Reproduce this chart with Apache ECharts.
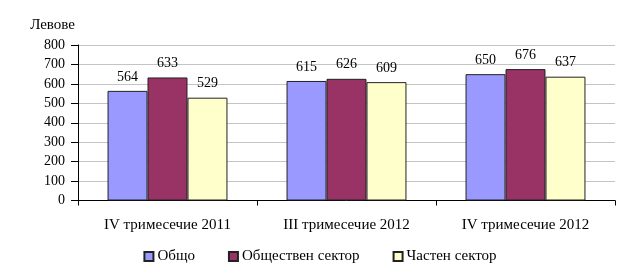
<!DOCTYPE html>
<html><head><meta charset="utf-8">
<script src="https://cdn.jsdelivr.net/npm/echarts@6/dist/echarts.min.js"></script>
<style>html,body{margin:0;padding:0;background:#fff}#c{width:640px;height:272px}</style>
</head><body><div id="c"></div>
<script>
var categories = ['IV тримесечие 2011', 'III тримесечие 2012', 'IV тримесечие 2012'];
var seriesNames = ['Общо', 'Обществен сектор', 'Частен сектор'];
var total = [564, 615, 650];
var publicSector = [633, 626, 676];
var privateSector = [529, 609, 637];
var yTicks = [0, 100, 200, 300, 400, 500, 600, 700, 800];
var yName = 'Левове';

var colors = ['#9999FF', '#993366', '#FFFFCC'];
var font = 'Liberation Serif, Times New Roman, serif';
var chart = echarts.init(document.getElementById('c'));
var dataSets = [total, publicSector, privateSector];
chart.setOption({
  animation: false,
  textStyle: {fontFamily: font},
  grid: {left: 78, right: 25, top: 45, bottom: 71.5},
  legend: {
    top: 244, left: 'center', itemGap: 33,
    itemWidth: 9, itemHeight: 9, icon: 'rect',
    textStyle: {fontFamily: font, fontSize: 15, color: '#000', padding: [0,0,0,-1]},
    data: seriesNames
  },
  xAxis: {
    type: 'category', data: categories,
    axisLine: {lineStyle: {color: '#000'}},
    axisTick: {show: true, length: 5, lineStyle: {color: '#000'}},
    axisLabel: {color: '#000', fontSize: 15, fontFamily: font, margin: 17}
  },
  yAxis: {
    type: 'value', min: yTicks[0], max: yTicks[yTicks.length-1], interval: 100,
    name: yName, nameLocation: 'end', nameGap: 12,
    nameTextStyle: {color: '#000', fontSize: 15, fontFamily: font, align: 'right', padding: [0, 3, 0, 0]},
    axisLine: {show: true, lineStyle: {color: '#000'}},
    axisTick: {show: true, length: 7, lineStyle: {color: '#000'}},
    axisLabel: {color: '#000', fontSize: 14, fontFamily: font, margin: 13},
    splitLine: {lineStyle: {color: '#c4c4c4'}}
  },
  series: seriesNames.map(function (n, i) {
    return {
      name: n, type: 'bar', data: dataSets[i],
      barGap: '0%', barCategoryGap: '33%',
      itemStyle: {color: colors[i], borderColor: '#222', borderWidth: 1},
      label: {show: true, position: 'top', distance: 7, color: '#000', fontSize: 14, fontFamily: font}
    };
  })
});
</script></body></html>
